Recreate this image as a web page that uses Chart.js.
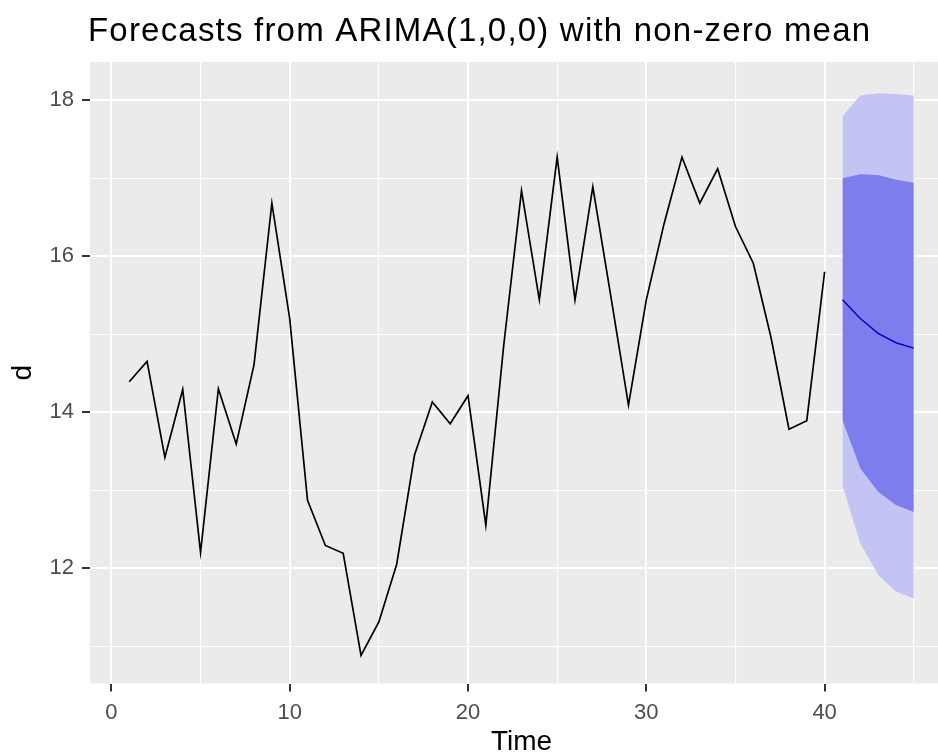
<!DOCTYPE html>
<html lang="en">
<head>
    <meta charset="UTF-8">
    <title>Forecasts from ARIMA(1,0,0) with non-zero mean</title>
    <style>
        html, body {
            margin: 0;
            padding: 0;
            background: #ffffff;
            overflow: hidden;
        }
        #fc {
            display: block;
        }
    </style>
</head>
<body>
    <canvas id="fc" width="960" height="756"></canvas>

    <script src="https://cdn.jsdelivr.net/npm/chart.js"></script>
    <script>
        // observed series d, t = 1..40
        const observed = [
            14.39, 14.65, 13.42, 14.29, 12.20, 14.30, 13.59, 14.61, 16.68, 15.20,
            12.87, 12.29, 12.19, 10.88, 11.31, 12.05, 13.45, 14.13, 13.85, 14.21,
            12.55, 14.85, 16.84, 15.44, 17.27, 15.44, 16.89, 15.50, 14.09, 15.44,
            16.42, 17.27, 16.68, 17.12, 16.38, 15.91, 14.95, 13.78, 13.89, 15.80
        ];

        // forecast horizon and intervals
        const fcTime = [41, 42, 43, 44, 45];
        const fcMean = [15.44, 15.20, 15.01, 14.89, 14.82];
        const hi80 = [17.00, 17.05, 17.04, 16.98, 16.94];
        const lo80 = [13.90, 13.28, 12.98, 12.81, 12.72];
        const hi95 = [17.79, 18.06, 18.09, 18.08, 18.06];
        const lo95 = [13.06, 12.32, 11.91, 11.70, 11.61];

        const xTickLabels = [0, 10, 20, 30, 40];
        const yTickLabels = [12, 14, 16, 18];

        const FONT = '"Liberation Sans", Arial, sans-serif';

        const obsPts = observed.map((v, i) => ({ x: i + 1, y: v }));
        const band = arr => arr.map((v, i) => ({ x: fcTime[i], y: v }));

        const plain = {
            pointRadius: 0,
            pointHoverRadius: 0,
            tension: 0
        };

        // grey panel behind the plot + left-aligned title
        const ggPanel = {
            id: 'ggPanel',
            beforeDraw(chart) {
                const { ctx, chartArea: a } = chart;
                ctx.save();
                ctx.fillStyle = '#ebebeb';
                ctx.fillRect(a.left, a.top, a.right - a.left, a.bottom - a.top);
                ctx.restore();
            },
            afterDraw(chart) {
                const { ctx, chartArea: a } = chart;
                ctx.save();
                ctx.font = '33px ' + FONT;
                ctx.letterSpacing = '1.2px';
                ctx.fillStyle = '#000000';
                ctx.textAlign = 'left';
                ctx.textBaseline = 'alphabetic';
                ctx.fillText('Forecasts from ARIMA(1,0,0) with non-zero mean', a.left - 2, 41);
                ctx.restore();
            }
        };

        const ctx = document.getElementById('fc').getContext('2d');

        new Chart(ctx, {
            type: 'line',
            data: {
                datasets: [
                    { data: obsPts, borderColor: '#000000', borderWidth: 1.7, fill: false, ...plain },
                    { data: band(fcMean), borderColor: '#0000c8', borderWidth: 1.4, fill: false, ...plain },
                    { data: band(hi80), borderWidth: 0, borderColor: 'rgba(0,0,0,0)', backgroundColor: '#7d7dee', fill: '+1', ...plain },
                    { data: band(lo80), borderWidth: 0, borderColor: 'rgba(0,0,0,0)', fill: false, ...plain },
                    { data: band(hi95), borderWidth: 0, borderColor: 'rgba(0,0,0,0)', backgroundColor: '#c4c4f4', fill: '+1', ...plain },
                    { data: band(lo95), borderWidth: 0, borderColor: 'rgba(0,0,0,0)', fill: false, ...plain }
                ]
            },
            options: {
                responsive: false,
                animation: false,
                devicePixelRatio: 1,
                layout: { padding: { top: 62, right: 7, bottom: 0, left: 0 } },
                plugins: {
                    legend: { display: false },
                    tooltip: { enabled: false },
                    title: { display: false }
                },
                scales: {
                    x: {
                        type: 'linear',
                        min: -1.2,
                        max: 47.2,
                        afterFit: s => { s.height = 72.5; },
                        border: { display: false },
                        grid: {
                            color: '#ffffff',
                            lineWidth: c => (xTickLabels.includes(c.tick.value) ? 2 : 1.1),
                            tickColor: c => (xTickLabels.includes(c.tick.value) ? '#333333' : 'rgba(0,0,0,0)'),
                            tickLength: 8,
                            drawOnChartArea: true
                        },
                        ticks: {
                            stepSize: 5,
                            includeBounds: false,
                            autoSkip: false,
                            maxRotation: 0,
                            padding: 8,
                            color: '#4d4d4d',
                            font: { family: FONT, size: 22 },
                            callback: v => (xTickLabels.includes(v) ? String(v) : '')
                        },
                        title: {
                            display: true,
                            text: 'Time',
                            color: '#000000',
                            font: { family: FONT, size: 28, lineHeight: 1 },
                            padding: { top: 0, bottom: 0 }
                        }
                    },
                    y: {
                        type: 'linear',
                        min: 10.52,
                        max: 18.49,
                        afterFit: s => { s.width = 90; },
                        border: { display: false },
                        grid: {
                            color: '#ffffff',
                            lineWidth: c => (yTickLabels.includes(c.tick.value) ? 2 : 1.1),
                            tickColor: c => (yTickLabels.includes(c.tick.value) ? '#333333' : 'rgba(0,0,0,0)'),
                            tickLength: 8
                        },
                        ticks: {
                            stepSize: 1,
                            includeBounds: false,
                            autoSkip: false,
                            padding: 8,
                            color: '#4d4d4d',
                            font: { family: FONT, size: 22 },
                            callback: v => (yTickLabels.includes(v) ? String(v) : '')
                        },
                        title: {
                            display: true,
                            text: 'd',
                            color: '#000000',
                            font: { family: FONT, size: 28, lineHeight: 1 },
                            padding: { top: 9, bottom: 0 }
                        }
                    }
                }
            },
            plugins: [ggPanel]
        });
    </script>
</body>
</html>
